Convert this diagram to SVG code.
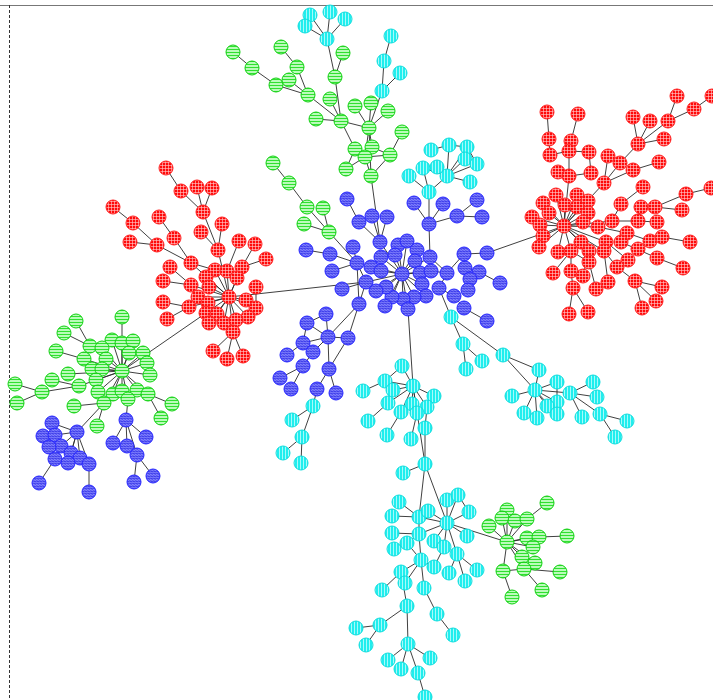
<svg xmlns="http://www.w3.org/2000/svg" width="713" height="700" viewBox="0 0 713 700">
<defs>
<pattern id="pr" width="3" height="3" patternUnits="userSpaceOnUse"><rect width="3" height="3" fill="#ff0a0a"/><path d="M0 0.5H3M0.5 0V3" stroke="#ffd0d0" stroke-width="0.6"/></pattern>
<pattern id="pc" width="3" height="3" patternUnits="userSpaceOnUse"><rect width="3" height="3" fill="#20eeee"/><path d="M0.5 0V3" stroke="#e0ffff" stroke-width="0.7"/></pattern>
<pattern id="pg" width="3" height="3" patternUnits="userSpaceOnUse"><rect width="3" height="3" fill="#c8ffc8"/><path d="M0 1.5H3" stroke="#30e030" stroke-width="1.2"/></pattern>
<pattern id="pb" width="3" height="2.5" patternUnits="userSpaceOnUse"><rect width="3" height="2.5" fill="#8585ff"/><path d="M0 1.2Q0.75 0.4 1.5 1.2T3 1.2" fill="none" stroke="#2020e0" stroke-width="0.9"/></pattern>
</defs>
<style>
circle{stroke-width:1}
.r{fill:url(#pr);stroke:#ff2020}
.c{fill:url(#pc);stroke:#10dddd}
.g{fill:url(#pg);stroke:#10d010}
.b{fill:url(#pb);stroke:#2525ff}
.e{fill:none;stroke:#2a2a2a;stroke-width:0.9}
</style>
<rect width="713" height="700" fill="#fff"/>
<path d="M0 5.5H713" stroke="#777" stroke-width="1"/>
<path d="M9.5 5V700" stroke="#333" stroke-width="1" stroke-dasharray="3,2"/>
<g id="connectors" class="e">
<path d="M327 39L310 15M327 39L330 12M327 39L345 19M327 39L305 26M327 39L335 77M335 77L343 53M233 52L252 68L276 85L308 95M289 80L308 95M281 47L297 67L308 95L341 121M330 99L341 121M316 119L341 121M335 77L341 121L369 128M369 128L355 106M369 128L371 103M369 128L388 111M341 121L355 149M369 128L372 147M369 128L365 157M369 128L371 176M355 149L365 157M355 149L346 169M365 157L371 176M372 147L390 155M365 157L390 155M371 176L390 155M402 132L390 155M346 169L365 157M391 36L384 61L382 91M400 73L382 91L369 128M371 176L380 242M273 163L289 183L307 207L329 232M323 208L329 232M304 224L329 232M329 232L357 263"/>
<path d="M447 176L449 145M447 176L465 159M447 176L477 164M447 176L470 182M447 176L437 167M447 176L423 168M447 176L467 147M431 150L449 145L467 147L477 164M409 176L429 192M423 168L429 192M447 176L429 192L429 224"/>
<path d="M347 199L359 222L380 242M372 216L380 242M387 217L380 242M414 203L429 224M443 204L429 224M457 216L429 224M477 200L457 216M482 217L457 216M429 224L430 257M306 250L330 254L357 263M353 247L357 263M332 271L357 263L366 282M342 289L366 282L402 274M357 263L359 304L366 282M402 274L380 242M402 274L398 245M402 274L407 241M402 274L417 250M402 274L395 255M402 274L381 257M402 274L415 261M402 274L371 267M402 274L381 271M402 274L420 273M402 274L431 271M402 274L422 284M402 274L426 296M402 274L414 297M402 274L403 299M402 274L392 297M402 274L386 287M402 274L376 291M402 274L408 309M402 274L430 257M402 274L385 306M430 257L447 273L464 254L487 253M447 273L439 288L454 296L464 308L487 321M465 268L479 272L500 283M464 254L465 268L470 279L468 290M431 271L447 273M420 273L431 271M359 304L348 338M359 304L328 337M328 337L326 314M328 337L307 323M328 337L348 338M328 337L303 343M328 337L313 352M328 337L329 369M307 323L303 343L313 352M303 343L287 355M313 352L303 366L280 378M303 366L291 389M329 369L317 389M329 369L336 393M348 338L329 369M326 314L307 323M487 253L564 226M229 297L366 282M408 309L413 386M439 288L451 317L463 344L482 361M463 344L466 369M451 317L503 355M317 389L313 406L292 420M313 406L302 437L283 453M302 437L301 463"/>
<path d="M413 386L402 366M413 386L385 381M413 386L393 390M413 386L434 396M413 386L388 403M413 386L412 404M413 386L427 407M413 386L401 412M413 386L417 413M413 386L425 464M363 391L385 381L402 366M385 381L393 390M388 403L368 421M401 412L387 435M417 413L411 439M427 407L425 428L425 464L403 473M425 464L419 517M425 464L447 523"/>
<path d="M503 355L539 370M503 355L535 390M535 390L539 370M535 390L557 382M535 390L512 396M535 390L570 393M535 390L557 402M535 390L547 406M535 390L524 413M535 390L537 418M535 390L557 414M557 382L557 402M570 393L593 382M570 393L597 397M570 393L582 417M570 393L600 414L627 421M600 414L615 437M524 413L537 418M547 406L557 402"/>
<path d="M419 517L399 502M419 517L392 516M419 517L419 534M419 517L447 523M447 523L428 511M447 523L447 500M447 523L458 495M447 523L469 512M447 523L434 541M447 523L467 536M447 523L444 547M447 523L457 554M447 523L419 534M447 523L507 542M447 500L458 495L469 512M419 534L392 533M419 534L407 543M419 534L421 560M421 560L407 543M421 560L401 572M421 560L434 567M421 560L405 583M421 560L424 588M407 543L394 549M401 572L382 590M401 572L407 606L380 625L356 628M380 625L366 645M407 606L408 644L388 660M408 644L401 669M408 644L430 658M408 644L418 673L425 697M424 588L437 614L453 635M457 554L449 573M457 554L477 570M457 554L465 581M444 547L434 567M434 541L444 547"/>
<path d="M507 542L507 510M507 542L502 518M507 542L515 521M507 542L527 519M507 542L489 526M507 542L527 538M507 542L539 537M507 542L533 547M507 542L522 557M507 542L535 563M507 542L503 571M507 542L524 569M527 519L547 503M539 537L567 536M524 569L560 572M524 569L542 590M503 571L512 597M503 571L524 569M515 521L527 519M527 538L539 537"/>
<path d="M677 96L668 121M694 109L668 121M712 96L694 109M668 121L638 144M633 117L638 144M650 121L638 144M664 139L638 144M638 144L620 163L604 183M608 156L604 183M659 162L633 170L604 183L564 226M547 112L549 139L550 155M578 114L571 141L569 151L550 155M569 151L589 152L591 173M569 151L569 176M558 172L569 176L591 173M569 176L564 226M556 195L564 226M564 226L577 195M564 226L588 201M564 226L543 203M564 226L565 205M564 226L577 207M564 226L549 213M564 226L588 213M564 226L532 217M564 226L540 225M564 226L583 222M564 226L598 227M564 226L612 221M564 226L543 236M564 226L539 247M564 226L581 242M564 226L606 242M564 226L558 252M564 226L571 251M564 226L589 251M564 226L604 251M598 227L612 221L638 221L657 222M612 221L621 204L643 187M638 221L641 207L655 207L682 210M655 207L686 194L711 188M598 227L627 233L650 241L662 237L690 242M627 233L621 242L657 258L683 268M638 249L650 241M606 242L628 260M604 251L617 267L635 281L662 287M635 281L656 301M635 281L642 308M571 251L571 271L573 288L569 314M573 288L588 312M553 273L571 251M583 276L589 251M596 289L589 262L571 251M608 282L604 251"/>
<path d="M166 168L181 191L203 212L218 250L229 297M197 187L203 212M212 188L203 212M222 224L218 250M201 232L218 250M113 207L133 223L157 245L191 263L229 297M130 242L157 245M159 217L174 238L191 263M191 263L215 270M170 267L191 285L229 297M163 281L191 285M163 302L189 307L229 297M167 319L189 307M239 241L227 271M255 244L242 267M266 259L242 267L229 297M256 287L256 308L229 297M229 297L215 270M229 297L227 271M229 297L206 277M229 297L237 278M229 297L209 287M229 297L198 297M229 297L246 300M229 297L208 303M229 297L206 313M229 297L217 314M229 297L248 317M229 297L224 323M229 297L236 320M229 297L209 323M229 297L233 332M233 332L213 351M233 332L227 359M233 332L243 356M206 313L122 371"/>
<path d="M122 371L122 317M122 371L112 340M122 371L122 343M122 371L133 341M122 371L129 353M122 371L143 353M122 371L147 363M122 371L150 375M122 371L106 359M122 371L102 369M122 371L92 369M122 371L96 380M122 371L98 392M122 371L113 394M122 371L122 391M122 371L137 390M122 371L148 394M122 371L128 399M122 371L104 403M122 371L79 386M122 371L68 374M122 371L84 359M122 371L102 348M76 321L90 346L102 348M64 333L90 346L106 359M56 351L84 359L102 369M15 384L42 392L79 386M17 403L42 392M52 380L79 386M104 403L74 406M104 403L97 426M148 394L172 404M148 394L161 418M104 403L77 432M128 399L126 420"/>
<path d="M77 432L52 423M77 432L55 435M77 432L61 446M77 432L71 453M77 432L80 458M77 432L89 464M77 432L68 463M43 436L55 435M52 423L55 435M49 447L61 446M55 459L39 483M55 459L68 463M61 446L55 459M89 464L89 492M126 420L113 443M126 420L127 446M126 420L146 437M126 420L137 455L134 482M137 455L153 476"/>
</g>
<g id="nodes">
<g id="c1"><circle class="c" cx="310" cy="15" r="7"/></g>
<g id="c2"><circle class="c" cx="330" cy="12" r="7"/></g>
<g id="c3"><circle class="c" cx="345" cy="19" r="7"/></g>
<g id="c4"><circle class="c" cx="305" cy="26" r="7"/></g>
<g id="c5"><circle class="c" cx="327" cy="39" r="7"/></g>
<g id="c6"><circle class="c" cx="391" cy="36" r="7"/></g>
<g id="c7"><circle class="c" cx="384" cy="61" r="7"/></g>
<g id="c8"><circle class="c" cx="400" cy="73" r="7"/></g>
<g id="c9"><circle class="c" cx="382" cy="91" r="7"/></g>
<g id="g1"><circle class="g" cx="335" cy="77" r="7"/></g>
<g id="g2"><circle class="g" cx="343" cy="53" r="7"/></g>
<g id="g3"><circle class="g" cx="233" cy="52" r="7"/></g>
<g id="g4"><circle class="g" cx="252" cy="68" r="7"/></g>
<g id="g5"><circle class="g" cx="276" cy="85" r="7"/></g>
<g id="g6"><circle class="g" cx="289" cy="80" r="7"/></g>
<g id="g7"><circle class="g" cx="281" cy="47" r="7"/></g>
<g id="g8"><circle class="g" cx="297" cy="67" r="7"/></g>
<g id="g9"><circle class="g" cx="308" cy="95" r="7"/></g>
<g id="g10"><circle class="g" cx="330" cy="99" r="7"/></g>
<g id="g11"><circle class="g" cx="316" cy="119" r="7"/></g>
<g id="g12"><circle class="g" cx="341" cy="121" r="7"/></g>
<g id="g13"><circle class="g" cx="369" cy="128" r="7"/></g>
<g id="g14"><circle class="g" cx="355" cy="106" r="7"/></g>
<g id="g15"><circle class="g" cx="371" cy="103" r="7"/></g>
<g id="g16"><circle class="g" cx="388" cy="111" r="7"/></g>
<g id="g17"><circle class="g" cx="355" cy="149" r="7"/></g>
<g id="g18"><circle class="g" cx="372" cy="147" r="7"/></g>
<g id="g19"><circle class="g" cx="365" cy="157" r="7"/></g>
<g id="g20"><circle class="g" cx="390" cy="155" r="7"/></g>
<g id="g21"><circle class="g" cx="402" cy="132" r="7"/></g>
<g id="g22"><circle class="g" cx="346" cy="169" r="7"/></g>
<g id="g23"><circle class="g" cx="371" cy="176" r="7"/></g>
<g id="g24"><circle class="g" cx="273" cy="163" r="7"/></g>
<g id="g25"><circle class="g" cx="289" cy="183" r="7"/></g>
<g id="g26"><circle class="g" cx="307" cy="207" r="7"/></g>
<g id="g27"><circle class="g" cx="323" cy="208" r="7"/></g>
<g id="g28"><circle class="g" cx="304" cy="224" r="7"/></g>
<g id="g29"><circle class="g" cx="329" cy="232" r="7"/></g>
<g id="k1"><circle class="c" cx="431" cy="150" r="7"/></g>
<g id="k2"><circle class="c" cx="449" cy="145" r="7"/></g>
<g id="k3"><circle class="c" cx="467" cy="147" r="7"/></g>
<g id="k4"><circle class="c" cx="465" cy="159" r="7"/></g>
<g id="k5"><circle class="c" cx="477" cy="164" r="7"/></g>
<g id="k6"><circle class="c" cx="447" cy="176" r="7"/></g>
<g id="k7"><circle class="c" cx="423" cy="168" r="7"/></g>
<g id="k8"><circle class="c" cx="437" cy="167" r="7"/></g>
<g id="k9"><circle class="c" cx="409" cy="176" r="7"/></g>
<g id="k10"><circle class="c" cx="470" cy="182" r="7"/></g>
<g id="k11"><circle class="c" cx="429" cy="192" r="7"/></g>
<g id="b1"><circle class="b" cx="347" cy="199" r="7"/></g>
<g id="b2"><circle class="b" cx="359" cy="222" r="7"/></g>
<g id="b3"><circle class="b" cx="372" cy="216" r="7"/></g>
<g id="b4"><circle class="b" cx="387" cy="217" r="7"/></g>
<g id="b5"><circle class="b" cx="380" cy="242" r="7"/></g>
<g id="b6"><circle class="b" cx="398" cy="245" r="7"/></g>
<g id="b7"><circle class="b" cx="407" cy="241" r="7"/></g>
<g id="b8"><circle class="b" cx="417" cy="250" r="7"/></g>
<g id="b9"><circle class="b" cx="414" cy="203" r="7"/></g>
<g id="b10"><circle class="b" cx="443" cy="204" r="7"/></g>
<g id="b11"><circle class="b" cx="429" cy="224" r="7"/></g>
<g id="b12"><circle class="b" cx="457" cy="216" r="7"/></g>
<g id="b13"><circle class="b" cx="477" cy="200" r="7"/></g>
<g id="b14"><circle class="b" cx="482" cy="217" r="7"/></g>
<g id="b15"><circle class="b" cx="306" cy="250" r="7"/></g>
<g id="b16"><circle class="b" cx="330" cy="254" r="7"/></g>
<g id="b17"><circle class="b" cx="353" cy="247" r="7"/></g>
<g id="b18"><circle class="b" cx="357" cy="263" r="7"/></g>
<g id="b19"><circle class="b" cx="332" cy="271" r="7"/></g>
<g id="b20"><circle class="b" cx="342" cy="289" r="7"/></g>
<g id="b21"><circle class="b" cx="366" cy="282" r="7"/></g>
<g id="b22"><circle class="b" cx="371" cy="267" r="7"/></g>
<g id="b23"><circle class="b" cx="381" cy="257" r="7"/></g>
<g id="b24"><circle class="b" cx="381" cy="271" r="7"/></g>
<g id="b25"><circle class="b" cx="395" cy="255" r="7"/></g>
<g id="b26"><circle class="b" cx="415" cy="261" r="7"/></g>
<g id="b27"><circle class="b" cx="402" cy="274" r="7"/></g>
<g id="b28"><circle class="b" cx="430" cy="257" r="7"/></g>
<g id="b29"><circle class="b" cx="420" cy="273" r="7"/></g>
<g id="b30"><circle class="b" cx="431" cy="271" r="7"/></g>
<g id="b31"><circle class="b" cx="447" cy="273" r="7"/></g>
<g id="b32"><circle class="b" cx="464" cy="254" r="7"/></g>
<g id="b33"><circle class="b" cx="487" cy="253" r="7"/></g>
<g id="b34"><circle class="b" cx="465" cy="268" r="7"/></g>
<g id="b35"><circle class="b" cx="479" cy="272" r="7"/></g>
<g id="b36"><circle class="b" cx="470" cy="279" r="7"/></g>
<g id="b37"><circle class="b" cx="468" cy="290" r="7"/></g>
<g id="b38"><circle class="b" cx="439" cy="288" r="7"/></g>
<g id="b39"><circle class="b" cx="454" cy="296" r="7"/></g>
<g id="b40"><circle class="b" cx="464" cy="308" r="7"/></g>
<g id="b41"><circle class="b" cx="487" cy="321" r="7"/></g>
<g id="b42"><circle class="b" cx="500" cy="283" r="7"/></g>
<g id="b43"><circle class="b" cx="422" cy="284" r="7"/></g>
<g id="b44"><circle class="b" cx="426" cy="296" r="7"/></g>
<g id="b45"><circle class="b" cx="414" cy="297" r="7"/></g>
<g id="b46"><circle class="b" cx="403" cy="299" r="7"/></g>
<g id="b47"><circle class="b" cx="408" cy="309" r="7"/></g>
<g id="b48"><circle class="b" cx="392" cy="297" r="7"/></g>
<g id="b49"><circle class="b" cx="385" cy="306" r="7"/></g>
<g id="b50"><circle class="b" cx="386" cy="287" r="7"/></g>
<g id="b51"><circle class="b" cx="376" cy="291" r="7"/></g>
<g id="b52"><circle class="b" cx="359" cy="304" r="7"/></g>
<g id="b53"><circle class="b" cx="307" cy="323" r="7"/></g>
<g id="b54"><circle class="b" cx="326" cy="314" r="7"/></g>
<g id="b55"><circle class="b" cx="328" cy="337" r="7"/></g>
<g id="b56"><circle class="b" cx="348" cy="338" r="7"/></g>
<g id="b57"><circle class="b" cx="303" cy="343" r="7"/></g>
<g id="b58"><circle class="b" cx="313" cy="352" r="7"/></g>
<g id="b59"><circle class="b" cx="287" cy="355" r="7"/></g>
<g id="b60"><circle class="b" cx="303" cy="366" r="7"/></g>
<g id="b61"><circle class="b" cx="329" cy="369" r="7"/></g>
<g id="b62"><circle class="b" cx="280" cy="378" r="7"/></g>
<g id="b63"><circle class="b" cx="291" cy="389" r="7"/></g>
<g id="b64"><circle class="b" cx="317" cy="389" r="7"/></g>
<g id="b65"><circle class="b" cx="336" cy="393" r="7"/></g>
<g id="q1"><circle class="c" cx="451" cy="317" r="7"/></g>
<g id="q2"><circle class="c" cx="463" cy="344" r="7"/></g>
<g id="q3"><circle class="c" cx="482" cy="361" r="7"/></g>
<g id="q4"><circle class="c" cx="466" cy="369" r="7"/></g>
<g id="l1"><circle class="c" cx="313" cy="406" r="7"/></g>
<g id="l2"><circle class="c" cx="292" cy="420" r="7"/></g>
<g id="l3"><circle class="c" cx="302" cy="437" r="7"/></g>
<g id="l4"><circle class="c" cx="283" cy="453" r="7"/></g>
<g id="l5"><circle class="c" cx="301" cy="463" r="7"/></g>
<g id="m1"><circle class="c" cx="402" cy="366" r="7"/></g>
<g id="m2"><circle class="c" cx="385" cy="381" r="7"/></g>
<g id="m3"><circle class="c" cx="413" cy="386" r="7"/></g>
<g id="m4"><circle class="c" cx="363" cy="391" r="7"/></g>
<g id="m5"><circle class="c" cx="393" cy="390" r="7"/></g>
<g id="m6"><circle class="c" cx="434" cy="396" r="7"/></g>
<g id="m7"><circle class="c" cx="388" cy="403" r="7"/></g>
<g id="m8"><circle class="c" cx="412" cy="404" r="7"/></g>
<g id="m9"><circle class="c" cx="427" cy="407" r="7"/></g>
<g id="m10"><circle class="c" cx="401" cy="412" r="7"/></g>
<g id="m11"><circle class="c" cx="417" cy="413" r="7"/></g>
<g id="m12"><circle class="c" cx="368" cy="421" r="7"/></g>
<g id="m13"><circle class="c" cx="425" cy="428" r="7"/></g>
<g id="m14"><circle class="c" cx="387" cy="435" r="7"/></g>
<g id="m15"><circle class="c" cx="411" cy="439" r="7"/></g>
<g id="m16"><circle class="c" cx="425" cy="464" r="7"/></g>
<g id="m17"><circle class="c" cx="403" cy="473" r="7"/></g>
<g id="r1"><circle class="c" cx="503" cy="355" r="7"/></g>
<g id="r2"><circle class="c" cx="539" cy="370" r="7"/></g>
<g id="r3"><circle class="c" cx="557" cy="382" r="7"/></g>
<g id="r4"><circle class="c" cx="535" cy="390" r="7"/></g>
<g id="r5"><circle class="c" cx="512" cy="396" r="7"/></g>
<g id="r6"><circle class="c" cx="570" cy="393" r="7"/></g>
<g id="r7"><circle class="c" cx="593" cy="382" r="7"/></g>
<g id="r8"><circle class="c" cx="597" cy="397" r="7"/></g>
<g id="r9"><circle class="c" cx="557" cy="402" r="7"/></g>
<g id="r10"><circle class="c" cx="547" cy="406" r="7"/></g>
<g id="r11"><circle class="c" cx="524" cy="413" r="7"/></g>
<g id="r12"><circle class="c" cx="537" cy="418" r="7"/></g>
<g id="r13"><circle class="c" cx="557" cy="414" r="7"/></g>
<g id="r14"><circle class="c" cx="582" cy="417" r="7"/></g>
<g id="r15"><circle class="c" cx="600" cy="414" r="7"/></g>
<g id="r16"><circle class="c" cx="627" cy="421" r="7"/></g>
<g id="r17"><circle class="c" cx="615" cy="437" r="7"/></g>
<g id="n1"><circle class="c" cx="399" cy="502" r="7"/></g>
<g id="n2"><circle class="c" cx="392" cy="516" r="7"/></g>
<g id="n3"><circle class="c" cx="419" cy="517" r="7"/></g>
<g id="n4"><circle class="c" cx="428" cy="511" r="7"/></g>
<g id="n5"><circle class="c" cx="447" cy="500" r="7"/></g>
<g id="n6"><circle class="c" cx="458" cy="495" r="7"/></g>
<g id="n7"><circle class="c" cx="469" cy="512" r="7"/></g>
<g id="n8"><circle class="c" cx="447" cy="523" r="7"/></g>
<g id="n9"><circle class="c" cx="392" cy="533" r="7"/></g>
<g id="n10"><circle class="c" cx="419" cy="534" r="7"/></g>
<g id="n11"><circle class="c" cx="434" cy="541" r="7"/></g>
<g id="n12"><circle class="c" cx="467" cy="536" r="7"/></g>
<g id="n13"><circle class="c" cx="407" cy="543" r="7"/></g>
<g id="n14"><circle class="c" cx="394" cy="549" r="7"/></g>
<g id="n15"><circle class="c" cx="444" cy="547" r="7"/></g>
<g id="n16"><circle class="c" cx="457" cy="554" r="7"/></g>
<g id="n17"><circle class="c" cx="421" cy="560" r="7"/></g>
<g id="n18"><circle class="c" cx="401" cy="572" r="7"/></g>
<g id="n19"><circle class="c" cx="434" cy="567" r="7"/></g>
<g id="n20"><circle class="c" cx="449" cy="573" r="7"/></g>
<g id="n21"><circle class="c" cx="477" cy="570" r="7"/></g>
<g id="n22"><circle class="c" cx="465" cy="581" r="7"/></g>
<g id="n23"><circle class="c" cx="405" cy="583" r="7"/></g>
<g id="n24"><circle class="c" cx="424" cy="588" r="7"/></g>
<g id="n25"><circle class="c" cx="382" cy="590" r="7"/></g>
<g id="n26"><circle class="c" cx="407" cy="606" r="7"/></g>
<g id="n27"><circle class="c" cx="437" cy="614" r="7"/></g>
<g id="n28"><circle class="c" cx="380" cy="625" r="7"/></g>
<g id="n29"><circle class="c" cx="356" cy="628" r="7"/></g>
<g id="n30"><circle class="c" cx="453" cy="635" r="7"/></g>
<g id="n31"><circle class="c" cx="366" cy="645" r="7"/></g>
<g id="n32"><circle class="c" cx="408" cy="644" r="7"/></g>
<g id="n33"><circle class="c" cx="430" cy="658" r="7"/></g>
<g id="n34"><circle class="c" cx="388" cy="660" r="7"/></g>
<g id="n35"><circle class="c" cx="401" cy="669" r="7"/></g>
<g id="n36"><circle class="c" cx="418" cy="673" r="7"/></g>
<g id="n37"><circle class="c" cx="425" cy="697" r="7"/></g>
<g id="h1"><circle class="g" cx="507" cy="510" r="7"/></g>
<g id="h2"><circle class="g" cx="502" cy="518" r="7"/></g>
<g id="h3"><circle class="g" cx="515" cy="521" r="7"/></g>
<g id="h4"><circle class="g" cx="527" cy="519" r="7"/></g>
<g id="h5"><circle class="g" cx="489" cy="526" r="7"/></g>
<g id="h6"><circle class="g" cx="547" cy="503" r="7"/></g>
<g id="h7"><circle class="g" cx="507" cy="542" r="7"/></g>
<g id="h8"><circle class="g" cx="527" cy="538" r="7"/></g>
<g id="h9"><circle class="g" cx="539" cy="537" r="7"/></g>
<g id="h10"><circle class="g" cx="567" cy="536" r="7"/></g>
<g id="h11"><circle class="g" cx="533" cy="547" r="7"/></g>
<g id="h12"><circle class="g" cx="522" cy="557" r="7"/></g>
<g id="h13"><circle class="g" cx="535" cy="563" r="7"/></g>
<g id="h14"><circle class="g" cx="503" cy="571" r="7"/></g>
<g id="h15"><circle class="g" cx="524" cy="569" r="7"/></g>
<g id="h16"><circle class="g" cx="560" cy="572" r="7"/></g>
<g id="h17"><circle class="g" cx="542" cy="590" r="7"/></g>
<g id="h18"><circle class="g" cx="512" cy="597" r="7"/></g>
<g id="R1"><circle class="r" cx="677" cy="96" r="7"/></g>
<g id="R2"><circle class="r" cx="694" cy="109" r="7"/></g>
<g id="R3"><circle class="r" cx="712" cy="96" r="7"/></g>
<g id="R4"><circle class="r" cx="633" cy="117" r="7"/></g>
<g id="R5"><circle class="r" cx="650" cy="121" r="7"/></g>
<g id="R6"><circle class="r" cx="668" cy="121" r="7"/></g>
<g id="R7"><circle class="r" cx="664" cy="139" r="7"/></g>
<g id="R8"><circle class="r" cx="638" cy="144" r="7"/></g>
<g id="R9"><circle class="r" cx="547" cy="112" r="7"/></g>
<g id="R10"><circle class="r" cx="578" cy="114" r="7"/></g>
<g id="R11"><circle class="r" cx="549" cy="139" r="7"/></g>
<g id="R12"><circle class="r" cx="571" cy="141" r="7"/></g>
<g id="R13"><circle class="r" cx="550" cy="155" r="7"/></g>
<g id="R14"><circle class="r" cx="569" cy="151" r="7"/></g>
<g id="R15"><circle class="r" cx="589" cy="152" r="7"/></g>
<g id="R16"><circle class="r" cx="608" cy="156" r="7"/></g>
<g id="R17"><circle class="r" cx="620" cy="163" r="7"/></g>
<g id="R18"><circle class="r" cx="659" cy="162" r="7"/></g>
<g id="R19"><circle class="r" cx="633" cy="170" r="7"/></g>
<g id="R20"><circle class="r" cx="558" cy="172" r="7"/></g>
<g id="R21"><circle class="r" cx="569" cy="176" r="7"/></g>
<g id="R22"><circle class="r" cx="591" cy="173" r="7"/></g>
<g id="R23"><circle class="r" cx="604" cy="183" r="7"/></g>
<g id="R24"><circle class="r" cx="643" cy="187" r="7"/></g>
<g id="R25"><circle class="r" cx="686" cy="194" r="7"/></g>
<g id="R26"><circle class="r" cx="711" cy="188" r="7"/></g>
<g id="R27"><circle class="r" cx="556" cy="195" r="7"/></g>
<g id="R28"><circle class="r" cx="577" cy="195" r="7"/></g>
<g id="R29"><circle class="r" cx="588" cy="201" r="7"/></g>
<g id="R30"><circle class="r" cx="543" cy="203" r="7"/></g>
<g id="R31"><circle class="r" cx="565" cy="205" r="7"/></g>
<g id="R32"><circle class="r" cx="577" cy="207" r="7"/></g>
<g id="R33"><circle class="r" cx="621" cy="204" r="7"/></g>
<g id="R34"><circle class="r" cx="641" cy="207" r="7"/></g>
<g id="R35"><circle class="r" cx="655" cy="207" r="7"/></g>
<g id="R36"><circle class="r" cx="682" cy="210" r="7"/></g>
<g id="R37"><circle class="r" cx="549" cy="213" r="7"/></g>
<g id="R38"><circle class="r" cx="588" cy="213" r="7"/></g>
<g id="R39"><circle class="r" cx="532" cy="217" r="7"/></g>
<g id="R40"><circle class="r" cx="540" cy="225" r="7"/></g>
<g id="R41"><circle class="r" cx="564" cy="226" r="7"/></g>
<g id="R42"><circle class="r" cx="583" cy="222" r="7"/></g>
<g id="R43"><circle class="r" cx="598" cy="227" r="7"/></g>
<g id="R44"><circle class="r" cx="612" cy="221" r="7"/></g>
<g id="R45"><circle class="r" cx="638" cy="221" r="7"/></g>
<g id="R46"><circle class="r" cx="657" cy="222" r="7"/></g>
<g id="R47"><circle class="r" cx="543" cy="236" r="7"/></g>
<g id="R48"><circle class="r" cx="627" cy="233" r="7"/></g>
<g id="R49"><circle class="r" cx="650" cy="241" r="7"/></g>
<g id="R50"><circle class="r" cx="662" cy="237" r="7"/></g>
<g id="R51"><circle class="r" cx="690" cy="242" r="7"/></g>
<g id="R52"><circle class="r" cx="539" cy="247" r="7"/></g>
<g id="R53"><circle class="r" cx="581" cy="242" r="7"/></g>
<g id="R54"><circle class="r" cx="606" cy="242" r="7"/></g>
<g id="R55"><circle class="r" cx="621" cy="242" r="7"/></g>
<g id="R56"><circle class="r" cx="558" cy="252" r="7"/></g>
<g id="R57"><circle class="r" cx="571" cy="251" r="7"/></g>
<g id="R58"><circle class="r" cx="589" cy="251" r="7"/></g>
<g id="R59"><circle class="r" cx="604" cy="251" r="7"/></g>
<g id="R60"><circle class="r" cx="638" cy="249" r="7"/></g>
<g id="R61"><circle class="r" cx="657" cy="258" r="7"/></g>
<g id="R62"><circle class="r" cx="628" cy="260" r="7"/></g>
<g id="R63"><circle class="r" cx="589" cy="262" r="7"/></g>
<g id="R64"><circle class="r" cx="617" cy="267" r="7"/></g>
<g id="R65"><circle class="r" cx="683" cy="268" r="7"/></g>
<g id="R66"><circle class="r" cx="553" cy="273" r="7"/></g>
<g id="R67"><circle class="r" cx="571" cy="271" r="7"/></g>
<g id="R68"><circle class="r" cx="583" cy="276" r="7"/></g>
<g id="R69"><circle class="r" cx="596" cy="289" r="7"/></g>
<g id="R70"><circle class="r" cx="608" cy="282" r="7"/></g>
<g id="R71"><circle class="r" cx="635" cy="281" r="7"/></g>
<g id="R72"><circle class="r" cx="662" cy="287" r="7"/></g>
<g id="R73"><circle class="r" cx="573" cy="288" r="7"/></g>
<g id="R74"><circle class="r" cx="656" cy="301" r="7"/></g>
<g id="R75"><circle class="r" cx="642" cy="308" r="7"/></g>
<g id="R76"><circle class="r" cx="569" cy="314" r="7"/></g>
<g id="R77"><circle class="r" cx="588" cy="312" r="7"/></g>
<g id="L1"><circle class="r" cx="166" cy="168" r="7"/></g>
<g id="L2"><circle class="r" cx="181" cy="191" r="7"/></g>
<g id="L3"><circle class="r" cx="197" cy="187" r="7"/></g>
<g id="L4"><circle class="r" cx="212" cy="188" r="7"/></g>
<g id="L5"><circle class="r" cx="203" cy="212" r="7"/></g>
<g id="L6"><circle class="r" cx="113" cy="207" r="7"/></g>
<g id="L7"><circle class="r" cx="133" cy="223" r="7"/></g>
<g id="L8"><circle class="r" cx="159" cy="217" r="7"/></g>
<g id="L9"><circle class="r" cx="222" cy="224" r="7"/></g>
<g id="L10"><circle class="r" cx="201" cy="232" r="7"/></g>
<g id="L11"><circle class="r" cx="174" cy="238" r="7"/></g>
<g id="L12"><circle class="r" cx="130" cy="242" r="7"/></g>
<g id="L13"><circle class="r" cx="157" cy="245" r="7"/></g>
<g id="L14"><circle class="r" cx="239" cy="241" r="7"/></g>
<g id="L15"><circle class="r" cx="255" cy="244" r="7"/></g>
<g id="L16"><circle class="r" cx="218" cy="250" r="7"/></g>
<g id="L17"><circle class="r" cx="266" cy="259" r="7"/></g>
<g id="L18"><circle class="r" cx="191" cy="263" r="7"/></g>
<g id="L19"><circle class="r" cx="170" cy="267" r="7"/></g>
<g id="L20"><circle class="r" cx="215" cy="270" r="7"/></g>
<g id="L21"><circle class="r" cx="227" cy="271" r="7"/></g>
<g id="L22"><circle class="r" cx="242" cy="267" r="7"/></g>
<g id="L23"><circle class="r" cx="206" cy="277" r="7"/></g>
<g id="L24"><circle class="r" cx="237" cy="278" r="7"/></g>
<g id="L25"><circle class="r" cx="163" cy="281" r="7"/></g>
<g id="L26"><circle class="r" cx="191" cy="285" r="7"/></g>
<g id="L27"><circle class="r" cx="209" cy="287" r="7"/></g>
<g id="L28"><circle class="r" cx="256" cy="287" r="7"/></g>
<g id="L29"><circle class="r" cx="198" cy="297" r="7"/></g>
<g id="L30"><circle class="r" cx="229" cy="297" r="7"/></g>
<g id="L31"><circle class="r" cx="246" cy="300" r="7"/></g>
<g id="L32"><circle class="r" cx="163" cy="302" r="7"/></g>
<g id="L33"><circle class="r" cx="189" cy="307" r="7"/></g>
<g id="L34"><circle class="r" cx="208" cy="303" r="7"/></g>
<g id="L35"><circle class="r" cx="256" cy="308" r="7"/></g>
<g id="L36"><circle class="r" cx="206" cy="313" r="7"/></g>
<g id="L37"><circle class="r" cx="217" cy="314" r="7"/></g>
<g id="L38"><circle class="r" cx="248" cy="317" r="7"/></g>
<g id="L39"><circle class="r" cx="167" cy="319" r="7"/></g>
<g id="L40"><circle class="r" cx="224" cy="323" r="7"/></g>
<g id="L41"><circle class="r" cx="236" cy="320" r="7"/></g>
<g id="L42"><circle class="r" cx="209" cy="323" r="7"/></g>
<g id="L43"><circle class="r" cx="233" cy="332" r="7"/></g>
<g id="L44"><circle class="r" cx="213" cy="351" r="7"/></g>
<g id="L45"><circle class="r" cx="227" cy="359" r="7"/></g>
<g id="L46"><circle class="r" cx="243" cy="356" r="7"/></g>
<g id="G1"><circle class="g" cx="122" cy="317" r="7"/></g>
<g id="G2"><circle class="g" cx="76" cy="321" r="7"/></g>
<g id="G3"><circle class="g" cx="64" cy="333" r="7"/></g>
<g id="G4"><circle class="g" cx="112" cy="340" r="7"/></g>
<g id="G5"><circle class="g" cx="122" cy="343" r="7"/></g>
<g id="G6"><circle class="g" cx="133" cy="341" r="7"/></g>
<g id="G7"><circle class="g" cx="90" cy="346" r="7"/></g>
<g id="G8"><circle class="g" cx="102" cy="348" r="7"/></g>
<g id="G9"><circle class="g" cx="56" cy="351" r="7"/></g>
<g id="G10"><circle class="g" cx="129" cy="353" r="7"/></g>
<g id="G11"><circle class="g" cx="143" cy="353" r="7"/></g>
<g id="G12"><circle class="g" cx="84" cy="359" r="7"/></g>
<g id="G13"><circle class="g" cx="106" cy="359" r="7"/></g>
<g id="G14"><circle class="g" cx="147" cy="363" r="7"/></g>
<g id="G15"><circle class="g" cx="92" cy="369" r="7"/></g>
<g id="G16"><circle class="g" cx="102" cy="369" r="7"/></g>
<g id="G17"><circle class="g" cx="122" cy="371" r="7"/></g>
<g id="G18"><circle class="g" cx="68" cy="374" r="7"/></g>
<g id="G19"><circle class="g" cx="150" cy="375" r="7"/></g>
<g id="G20"><circle class="g" cx="52" cy="380" r="7"/></g>
<g id="G21"><circle class="g" cx="96" cy="380" r="7"/></g>
<g id="G22"><circle class="g" cx="79" cy="386" r="7"/></g>
<g id="G23"><circle class="g" cx="15" cy="384" r="7"/></g>
<g id="G24"><circle class="g" cx="42" cy="392" r="7"/></g>
<g id="G25"><circle class="g" cx="98" cy="392" r="7"/></g>
<g id="G26"><circle class="g" cx="113" cy="394" r="7"/></g>
<g id="G27"><circle class="g" cx="122" cy="391" r="7"/></g>
<g id="G28"><circle class="g" cx="137" cy="390" r="7"/></g>
<g id="G29"><circle class="g" cx="148" cy="394" r="7"/></g>
<g id="G30"><circle class="g" cx="128" cy="399" r="7"/></g>
<g id="G31"><circle class="g" cx="17" cy="403" r="7"/></g>
<g id="G32"><circle class="g" cx="74" cy="406" r="7"/></g>
<g id="G33"><circle class="g" cx="104" cy="403" r="7"/></g>
<g id="G34"><circle class="g" cx="172" cy="404" r="7"/></g>
<g id="G35"><circle class="g" cx="161" cy="418" r="7"/></g>
<g id="G36"><circle class="g" cx="97" cy="426" r="7"/></g>
<g id="B1"><circle class="b" cx="77" cy="432" r="7"/></g>
<g id="B2"><circle class="b" cx="52" cy="423" r="7"/></g>
<g id="B3"><circle class="b" cx="43" cy="436" r="7"/></g>
<g id="B4"><circle class="b" cx="55" cy="435" r="7"/></g>
<g id="B5"><circle class="b" cx="61" cy="446" r="7"/></g>
<g id="B6"><circle class="b" cx="49" cy="447" r="7"/></g>
<g id="B7"><circle class="b" cx="71" cy="453" r="7"/></g>
<g id="B8"><circle class="b" cx="80" cy="458" r="7"/></g>
<g id="B9"><circle class="b" cx="55" cy="459" r="7"/></g>
<g id="B10"><circle class="b" cx="68" cy="463" r="7"/></g>
<g id="B11"><circle class="b" cx="89" cy="464" r="7"/></g>
<g id="B12"><circle class="b" cx="39" cy="483" r="7"/></g>
<g id="B13"><circle class="b" cx="89" cy="492" r="7"/></g>
<g id="B14"><circle class="b" cx="126" cy="420" r="7"/></g>
<g id="B15"><circle class="b" cx="113" cy="443" r="7"/></g>
<g id="B16"><circle class="b" cx="127" cy="446" r="7"/></g>
<g id="B17"><circle class="b" cx="146" cy="437" r="7"/></g>
<g id="B18"><circle class="b" cx="137" cy="455" r="7"/></g>
<g id="B19"><circle class="b" cx="134" cy="482" r="7"/></g>
<g id="B20"><circle class="b" cx="153" cy="476" r="7"/></g>
</g>
</svg>
